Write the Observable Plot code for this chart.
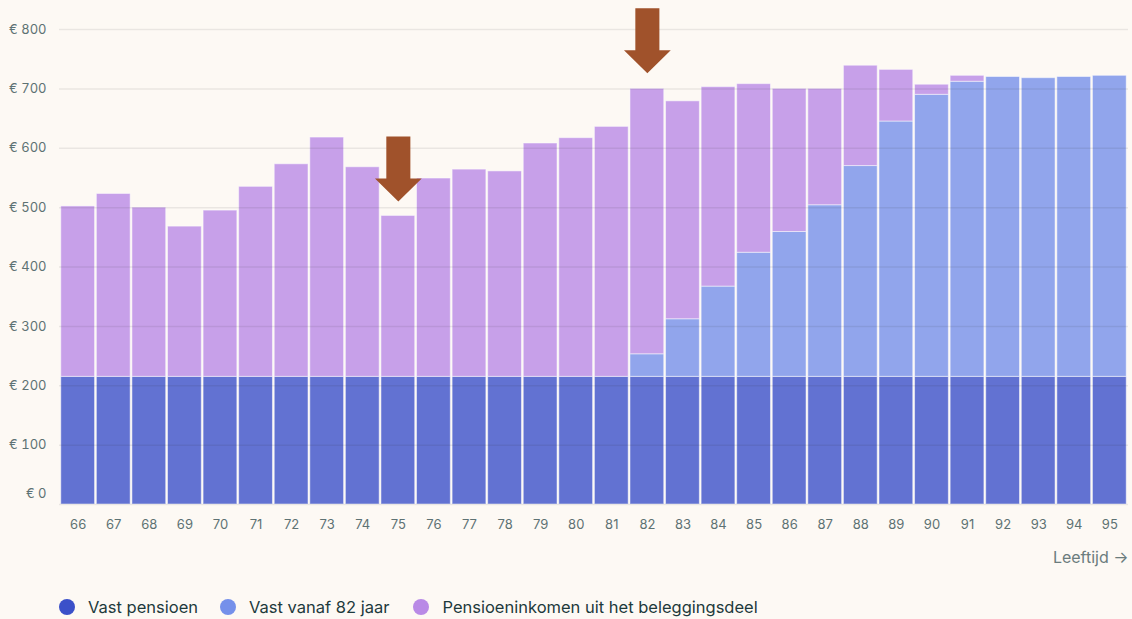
<!DOCTYPE html>
<html>
<head>
<meta charset="utf-8">
<script src="https://cdn.jsdelivr.net/npm/d3@7"></script>
<script src="https://cdn.jsdelivr.net/npm/@observablehq/plot@0.6"></script>
<style>
  html, body { margin: 0; padding: 0; background: #fdf9f4; }
  body { width: 1132px; height: 619px; overflow: hidden; font-family: Inter, "Noto Sans", sans-serif; }
  #legend { display: flex; align-items: center; margin-top: 22px; margin-left: 59px; height: 20px; line-height: 20px; font-size: 16.5px; color: #1e3a3c; }
  .item { display: flex; align-items: center; margin-right: 22px; }
  .item:nth-child(2) { margin-right: 24px; }
  .sw { width: 16px; height: 16px; border-radius: 50%; margin-right: 13px; }
</style>
</head>
<body>
<div id="chart"></div>
<div id="legend"></div>
<script>
const ages = [66,67,68,69,70,71,72,73,74,75,76,77,78,79,80,81,82,83,84,85,86,87,88,89,90,91,92,93,94,95];
const vastPensioen = [215,215,215,215,215,215,215,215,215,215,215,215,215,215,215,215,215,215,215,215,215,215,215,215,215,215,215,215,215,215];
const vastVanaf82 = [0,0,0,0,0,0,0,0,0,0,0,0,0,0,0,0,38,97,152,209,244,289,355,430,475,497,505,503,505,507];
const beleggingsdeel = [287,308,285,253,280,320,358,403,353,271,334,349,346,393,402,421,447,367,336,284,241,196,169,87,17,10,0,0,0,0];
const seriesNames = ["Vast pensioen", "Vast vanaf 82 jaar", "Pensioeninkomen uit het beleggingsdeel"];
const seriesColors = ["#3b50c9", "#7590ea", "#b98ae6"];
const yTicks = [0,100,200,300,400,500,600,700,800];
const arrowAges = [75, 82];
const arrowValues = [565, 781];

const rows = [];
ages.forEach((a, i) => {
  rows.push({age: a, series: seriesNames[0], value: vastPensioen[i]});
  rows.push({age: a, series: seriesNames[1], value: vastVanaf82[i]});
  rows.push({age: a, series: seriesNames[2], value: beleggingsdeel[i]});
});
const arrows = arrowAges.map((a, i) => ({age: a, value: arrowValues[i]}));

const arrowSymbol = {
  draw(ctx, size) {
    const s = Math.sqrt(size / Math.PI);
    ctx.moveTo(-0.37 * s, -s);
    ctx.lineTo(0.37 * s, -s);
    ctx.lineTo(0.37 * s, 0.29 * s);
    ctx.lineTo(0.72 * s, 0.29 * s);
    ctx.lineTo(0, s);
    ctx.lineTo(-0.72 * s, 0.29 * s);
    ctx.lineTo(-0.37 * s, 0.29 * s);
    ctx.closePath();
  }
};

const chart = Plot.plot({
  width: 1132,
  height: 575,
  marginTop: 29,
  marginBottom: 71,
  marginLeft: 59,
  marginRight: 4,
  style: { background: "#fdf9f4", fontFamily: "Inter, 'Noto Sans', sans-serif", fontSize: "13px", color: "#5e7273", overflow: "visible" },
  x: { type: "band", domain: ages, padding: 0.05, round: false },
  y: { domain: [0, 800] },
  color: { domain: seriesNames, range: seriesColors },
  marks: [
    Plot.barY(rows, { x: "age", y: "value", fill: "series", order: seriesNames, fillOpacity: 0.8, stroke: "#ffffff", strokeOpacity: 0.5, strokeWidth: 1 }),
    Plot.gridY(yTicks, { stroke: "#2a2a2a", strokeOpacity: 0.09, strokeWidth: 1.5 }),
    Plot.axisY(yTicks.filter(d => d > 0), { tickSize: 0, tickPadding: 13, tickFormat: d => "€ " + d, label: null }),
    Plot.axisY([0], { tickSize: 0, tickPadding: 13, tickFormat: d => "€ " + d, label: null, dy: -11 }),
    Plot.axisX({ tickSize: 0, tickPadding: 15, label: null }),
    Plot.text(["Leeftijd →"], { frameAnchor: "bottom-right", dy: 58, fontSize: 16, fill: "#6b7c7d" }),
    Plot.dot(arrows, { x: "age", y: "value", symbol: arrowSymbol, r: 32.5, fill: "#a0522b", stroke: "none" })
  ]
});
document.getElementById("chart").appendChild(chart);

const legend = document.getElementById("legend");
seriesNames.forEach((name, i) => {
  const item = document.createElement("div");
  item.className = "item";
  const sw = document.createElement("span");
  sw.className = "sw";
  sw.style.background = seriesColors[i];
  const t = document.createElement("span");
  t.textContent = name;
  item.appendChild(sw);
  item.appendChild(t);
  legend.appendChild(item);
});
</script>
</body>
</html>
